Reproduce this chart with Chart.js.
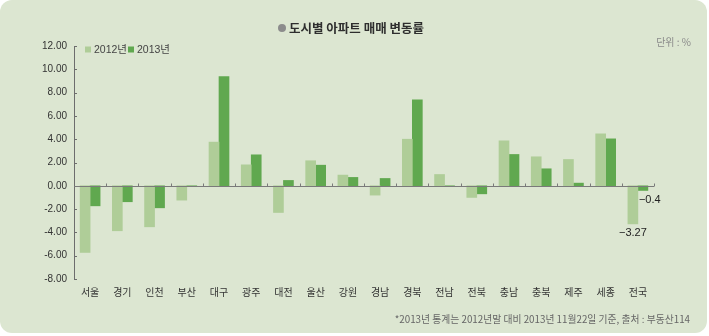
<!DOCTYPE html>
<html>
<head>
<meta charset="utf-8">
<script src="https://cdn.jsdelivr.net/npm/chart.js@4"></script>
<style>
  html,body{margin:0;padding:0;background:#ffffff;}
  #wrap{position:relative;width:709px;height:336px;}
  #panel{position:absolute;left:0;top:0;width:707px;height:333px;background:#dce6d1;border-radius:12px;}
  canvas{position:absolute;left:0;top:0;}
</style>
</head>
<body>
<div id="wrap">
  <div id="panel"></div>
  <canvas id="c" width="709" height="336"></canvas>
</div>
<script>
const categories = ['서울','경기','인천','부산','대구','광주','대전','울산','강원','경남','경북','전남','전북','충남','충북','제주','세종','전국'];
const series2012 = [-5.72,-3.86,-3.52,-1.23,3.75,1.80,-2.29,2.15,0.92,-0.80,4.00,0.97,-1.00,3.86,2.49,2.26,4.46,-3.27];
const series2013 = [-1.72,-1.37,-1.89,0,9.38,2.66,0.46,1.77,0.72,0.63,7.38,0,-0.69,2.69,1.46,0.23,4.03,-0.40];
const seriesNames = ['2012년','2013년'];
const yMin = -8, yMax = 12, yStep = 2;
const titleText = '도시별 아파트 매매 변동률';
const unitText = '단위 : %';
const noteText = '*2013년 통계는 2012년말 대비 2013년 11월22일 기준, 출처 : 부동산114';
const calloutLabels = ['−3.27','−0.4'];

const LIGHT = '#afcd98', DARK = '#60a84f';
const KR = '"Noto Sans CJK KR", "Noto Sans", sans-serif';
const NUM = '"Liberation Sans Narrow", "Liberation Sans", "Noto Sans CJK KR", sans-serif';

const decor = {
  id:'decor',
  afterDatasetsDraw(chart){
    const ctx = chart.ctx, ca = chart.chartArea;
    const xs = chart.scales.x, ys = chart.scales.y;
    const y0 = ys.getPixelForValue(0);
    ctx.save();
    // y axis line
    ctx.strokeStyle = '#6d6d6d'; ctx.lineWidth = 1;
    ctx.beginPath(); ctx.moveTo(ca.left+0.5, ca.top); ctx.lineTo(ca.left+0.5, ca.bottom); ctx.stroke();
    ys.ticks.forEach(t=>{
      const py = Math.round(ys.getPixelForValue(t.value))+0.5;
      ctx.beginPath(); ctx.moveTo(ca.left, py); ctx.lineTo(ca.left+3, py); ctx.stroke();
    });
    // zero line
    const zy = Math.round(y0)+0.5;
    ctx.strokeStyle = '#7a7a7a';
    ctx.beginPath(); ctx.moveTo(ca.left, zy); ctx.lineTo(ca.right, zy); ctx.stroke();
    const n = categories.length;
    for(let i=0;i<n;i++){
      const bx = i<n-1 ? (xs.getPixelForValue(i)+xs.getPixelForValue(i+1))/2 : ca.right;
      const px = Math.round(bx)+0.5;
      ctx.beginPath(); ctx.moveTo(px, zy); ctx.lineTo(px, zy-3); ctx.stroke();
    }
    // callouts on last category
    const last = n-1;
    const b12 = chart.getDatasetMeta(0).data[last];
    const b13 = chart.getDatasetMeta(1).data[last];
    ctx.fillStyle = '#222';
    ctx.font = '11px '+NUM;
    ctx.textBaseline = 'middle';
    ctx.textAlign = 'center';
    ctx.fillText(calloutLabels[0], b12.x, b12.y+9);
    ctx.textAlign = 'left';
    ctx.fillText(calloutLabels[1], b13.x-4, b13.y+10);
    // title
    ctx.fillStyle = '#8c8c8c';
    ctx.beginPath(); ctx.arc(282, 28, 4, 0, Math.PI*2); ctx.fill();
    ctx.fillStyle = '#2e2e2e';
    ctx.font = 'bold 12.5px '+KR;
    ctx.textAlign = 'left'; ctx.textBaseline = 'middle';
    ctx.fillText(titleText, 289, 28);
    // unit
    ctx.fillStyle = '#8a8a8a';
    ctx.font = '10px '+KR;
    ctx.textAlign = 'right';
    ctx.fillText(unitText, 691, 42);
    // legend
    const colors = [LIGHT, DARK];
    let lx = 85;
    ctx.font = '10.5px '+NUM;
    ctx.textAlign = 'left';
    seriesNames.forEach((name,i)=>{
      ctx.fillStyle = colors[i];
      ctx.fillRect(lx, 46.5, 6, 6);
      ctx.fillStyle = '#444';
      ctx.fillText(name, lx+9, 50);
      lx += 43;
    });
    // note
    ctx.fillStyle = '#666';
    ctx.font = '9.8px '+KR;
    ctx.textAlign = 'right';
    ctx.fillText(noteText, 690, 319);
    ctx.restore();
  }
};

new Chart(document.getElementById('c'), {
  type:'bar',
  data:{
    labels: categories,
    datasets:[
      {label:seriesNames[0], data:series2012, backgroundColor:LIGHT, barThickness:10},
      {label:seriesNames[1], data:series2013, backgroundColor:DARK, barThickness:10}
    ]
  },
  options:{
    responsive:false,
    devicePixelRatio:1,
    animation:false,
    layout:{padding:{left:0, top:46, right:55, bottom:0}},
    plugins:{legend:{display:false}, tooltip:{enabled:false}, title:{display:false}},
    scales:{
      x:{
        grid:{display:false, drawTicks:false},
        border:{display:false},
        ticks:{color:'#333', font:{family:KR, size:10}, padding:7, maxRotation:0, autoSkip:false},
        afterFit(s){ s.height = 57; }
      },
      y:{
        min:yMin, max:yMax,
        grid:{display:false, drawTicks:false},
        border:{display:false},
        ticks:{stepSize:yStep, color:'#333', font:{family:NUM, size:10}, padding:7,
               callback:v=>v.toFixed(2)},
        afterFit(s){ s.width = 74; }
      }
    }
  },
  plugins:[decor]
});
</script>
</body>
</html>
